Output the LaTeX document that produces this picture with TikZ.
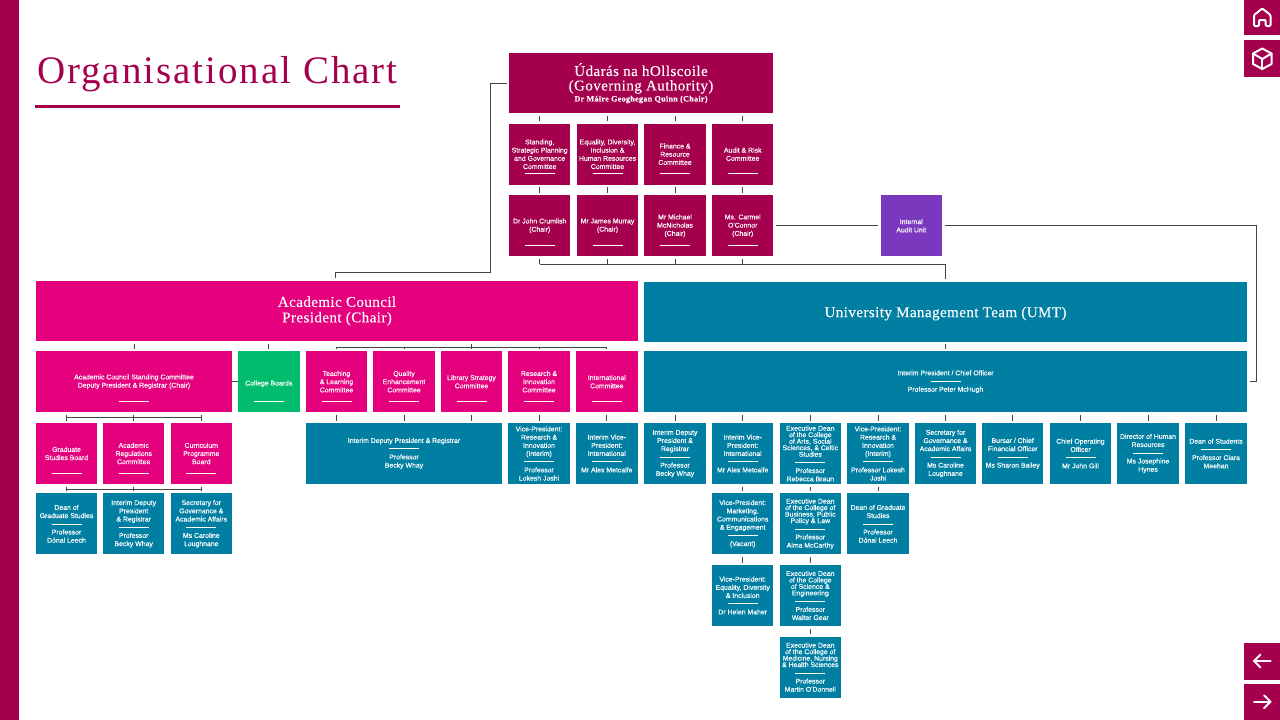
\documentclass[tikz,border=0pt]{standalone}
\usepackage{fontspec}
\setmainfont{Liberation Sans}
\newfontfamily\boxfont[FakeBold=0.15]{Liberation Sans}
\newfontfamily\headfont[LetterSpace=3, FakeBold=0.1]{Liberation Serif}
\newfontfamily\titlefont[LetterSpace=5]{Liberation Serif}
\usetikzlibrary{calc}
\definecolor{uniMaroon}{RGB}{165,0,78}
\definecolor{uniPink}{RGB}{229,0,125}
\definecolor{uniTeal}{RGB}{0,127,163}
\definecolor{uniGreen}{RGB}{0,188,108}
\definecolor{uniPurple}{RGB}{122,56,190}
\definecolor{linkGrey}{RGB}{68,68,68}
\newcommand{\sep}{\rule[2pt]{30pt}{0.7pt}}
\tikzset{
	orgbox/.style={minimum width=61.5pt, minimum height=61pt, inner sep=0pt, outer sep=2.5pt, text=white, align=center, font=\boxfont\fontsize{6.9}{8.2}\selectfont, execute at begin node={\rule{0pt}{7pt}}},
	ruled/.style={execute at begin node={\rule{0pt}{9pt}}, path picture={\draw[white, line width=0.7pt] ([xshift=-15pt, yshift=11pt]path picture bounding box.south) -- ++(30pt,0);}},
	govbox/.style={orgbox, ruled, fill=uniMaroon},
	acbox/.style={orgbox, ruled, fill=uniPink},
	umtbox/.style={orgbox, fill=uniTeal},
	headbox/.style={orgbox, font=\headfont\fontsize{15}{15.5}\selectfont, execute at begin node={\rule{0pt}{14.5pt}}},
	link/.style={draw=linkGrey, line width=1pt},
	joined/.style={shorten <=-2.5pt, shorten >=-2.5pt},
	icon/.style={white, line width=2pt, line join=round, line cap=round}
}
\begin{document}
\begin{tikzpicture}[x=1pt, y=-1pt]
	\fill[white] (0,0) rectangle (1280,720);
	\fill[uniMaroon] (0,0) rectangle (19,720);
	\node[anchor=west, inner sep=0pt, text=uniMaroon, font=\titlefont\fontsize{39}{40}\selectfont] (title) at (37,74.5) {Organisational Chart};
	\draw[uniMaroon, line width=2.6pt] (35,106.7) -- (400,106.7);

	% governing authority
	\node[headbox, fill=uniMaroon, minimum width=263.7pt, minimum height=60.3pt, font=\headfont\fontsize{15}{14.5}\selectfont, execute at begin node={\rule{0pt}{17.5pt}}] (gover) at (641,83.2) {Údarás na hOllscoile\\(Governing Authority)\\[-3.5pt]{\fontsize{8.2}{9}\selectfont\bfseries Dr Máire Geoghegan Quinn (Chair)}};
	\node[govbox] (stand) at (539.7,154.2) {Standing,\\Strategic Planning\\and Governance\\Committee};
	\node[govbox] (equal) at (607.5,154.2) {Equality, Diversity,\\Inclusion \&\\Human Resources\\Committee};
	\node[govbox] (finan) at (675,154.2) {Finance \&\\Resource\\Committee};
	\node[govbox] (audit) at (742.7,154.2) {Audit \& Risk\\Committee};
	\node[govbox] (crum) at (539.7,225.8) {Dr John Crumlish\\(Chair)};
	\node[govbox] (murr) at (607.5,225.8) {Mr James Murray\\(Chair)};
	\node[govbox] (mcni) at (675,225.8) {Mr Michael\\McNicholas\\(Chair)};
	\node[govbox] (ocon) at (742.7,225.8) {Ms. Carmel\\O'Connor\\(Chair)};
	\node[orgbox, fill=uniPurple] (iau) at (911.3,225.8) {Internal\\Audit Unit};

	% academic council
	\node[headbox, fill=uniPink, minimum width=602pt, minimum height=60.6pt, execute at begin node={\rule{0pt}{20pt}}] (coun) at (337,311) {Academic Council\\President (Chair)};
	\node[acbox, minimum width=196pt] (acsc) at (134,381.7) {Academic Council Standing Committee\\Deputy President \& Registrar (Chair)};
	\node[orgbox, ruled, fill=uniGreen] (boards) at (268.8,381.7) {College Boards};
	\node[acbox] (teach) at (336.5,381.7) {Teaching\\\& Learning\\Committee};
	\node[acbox] (qual) at (404,381.7) {Quality\\Enhancement\\Committee};
	\node[acbox] (libr) at (471.5,381.7) {Library Strategy\\Committee};
	\node[acbox] (rein) at (539,381.7) {Research \&\\Innovation\\Committee};
	\node[acbox] (intl) at (606.8,381.7) {International\\Committee};
	\node[acbox] (gsb) at (66.5,453.5) {Graduate\\Studies Board};
	\node[acbox] (arc) at (133.7,453.5) {Academic\\Regulations\\Committee};
	\node[acbox] (cpb) at (201.3,453.5) {Curriculum\\Programme\\Board};
	\node[umtbox] (dgs) at (66.5,523.8) {Dean of\\Graduate Studies\\\sep\\Professor\\Dónal Leech};
	\node[umtbox] (idp) at (133.7,523.8) {Interim Deputy\\President\\\& Registrar\\\sep\\Professor\\Becky Whay};
	\node[umtbox] (sga) at (201.3,523.8) {Secretary for\\Governance \&\\Academic Affairs\\\sep\\Ms Caroline\\Loughnane};
	\node[umtbox, minimum width=196pt] (dpr) at (404,453.5) {Interim Deputy President \& Registrar\\\sep\\Professor\\Becky Whay};
	\node[umtbox] (vpri) at (539,453.5) {Vice-President:\\Research \&\\Innovation\\(Interim)\\\sep\\Professor\\Lokesh Joshi};
	\node[umtbox] (ivpi) at (606.8,453.5) {Interim Vice-\\President:\\International\\\sep\\Mr Alex Metcalfe};

	% university management team
	\node[headbox, fill=uniTeal, minimum width=603pt, minimum height=60pt] (umt) at (945.5,311.5) {University Management Team (UMT)};
	\node[umtbox, minimum width=603pt] (pres) at (945.5,381.7) {Interim President / Chief Officer\\\sep\\Professor Peter McHugh};
	\node[umtbox] (mdp) at (675,453.5) {Interim Deputy\\President \&\\Registrar\\\sep\\Professor\\Becky Whay};
	\node[umtbox] (mvi) at (742.7,453.5) {Interim Vice-\\President:\\International\\\sep\\Mr Alex Metcalfe};
	\node[umtbox] (arts) at (810.3,453.5) {Executive Dean\\[-1.7pt]of the College\\[-1.7pt]of Arts, Social\\[-1.7pt]Sciences, \& Celtic\\[-1.7pt]Studies\\\sep\\Professor\\Rebecca Braun};
	\node[umtbox] (mvr) at (878,453.5) {Vice-President:\\Research \&\\Innovation\\(Interim)\\\sep\\Professor Lokesh\\Joshi};
	\node[umtbox] (msg) at (945.5,453.5) {Secretary for\\Governance \&\\Academic Affairs\\\sep\\Ms Caroline\\Loughnane};
	\node[umtbox] (burs) at (1012.7,453.5) {Bursar / Chief\\Financial Officer\\\sep\\Ms Sharon Bailey};
	\node[umtbox] (coo) at (1080.5,453.5) {Chief Operating\\Officer\\\sep\\Mr John Gill};
	\node[umtbox] (hr) at (1148,453.5) {Director of Human\\Resources\\\sep\\Ms Josephine\\Hynes};
	\node[umtbox] (stud) at (1216,453.5) {Dean of Students\\\sep\\Professor Ciara\\Meehan};
	\node[umtbox] (mce) at (742.7,523.8) {Vice-President:\\Marketing,\\Communications\\\& Engagement\\\sep\\(Vacant)};
	\node[umtbox] (bus) at (810.3,523.8) {Executive Dean\\[-1.7pt]of the College of\\[-1.7pt]Business, Public\\[-1.7pt]Policy \& Law\\\sep\\Professor\\Alma McCarthy};
	\node[umtbox] (mgs) at (878,523.8) {Dean of Graduate\\Studies\\\sep\\Professor\\Dónal Leech};
	\node[umtbox] (edi) at (742.7,595.5) {Vice-President:\\Equality, Diversity\\\& Inclusion\\\sep\\Dr Helen Maher};
	\node[umtbox] (sci) at (810.3,595.5) {Executive Dean\\[-1.7pt]of the College\\[-1.7pt]of Science \&\\[-1.7pt]Engineering\\\sep\\Professor\\Walter Gear};
	\node[umtbox] (med) at (810.3,667.2) {Executive Dean\\[-1.7pt]of the College of\\[-1.7pt]Medicine, Nursing\\[-1.7pt]\& Health Sciences\\\sep\\Professor\\Martin O'Donnell};

	% connectors
	\coordinate (turnA) at (490,272);
	\coordinate (turnB) at (1256,300);
	\coordinate (busG) at (0,264);
	\coordinate (busT) at (0,347);
	\coordinate (busR) at (0,417);
	\coordinate (busD) at (0,489);
	\draw[link] (gover.west) -| (turnA) -| ([xshift=-2pt]coun.north);
	\foreach \a/\b in {stand/gover, equal/gover, finan/gover, audit/gover, crum/stand, murr/equal, mcni/finan, ocon/audit}
	\draw[link] (\a.north) -- (\a.north |- \b.south);
	\foreach \a in {crum, murr, mcni, ocon}
	\draw[link] (\a.south) -- (\a.south |- busG);
	\draw[link] (crum.south |- busG) -- (umt.north |- busG) -- (umt.north);
	\draw[link] (ocon.east) -- (iau.west);
	\draw[link] (iau.east) -| (turnB) |- (pres.east);
	\draw[link] (acsc.north) -- (acsc.north |- coun.south);
	\draw[link] (boards.north) -- (boards.north |- coun.south);
	\draw[link, joined] (acsc.east) -- (boards.west);
	\draw[link] (libr.north) -- (libr.north |- coun.south);
	\foreach \a in {teach, qual, rein, intl}
	\draw[link] (\a.north) -- (\a.north |- busT);
	\draw[link] (teach.north |- busT) -- (intl.north |- busT);
	\foreach \a/\b in {teach/dpr, qual/dpr, libr/dpr, rein/vpri, intl/ivpi}
	\draw[link] (\a.south) -- (\a.south |- \b.north);
	\foreach \a in {gsb, arc, cpb}
	\draw[link] (\a.north) -- (\a.north |- acsc.south);
	\draw[link] (gsb.north |- busR) -- (cpb.north |- busR);
	\foreach \a/\b in {gsb/dgs, arc/idp, cpb/sga}
	\draw[link] (\a.south) -- (\b.north);
	\draw[link] (gsb.south |- busD) -- (cpb.south |- busD);
	\draw[link] (umt.south) -- (pres.north);
	\foreach \a in {mdp, mvi, arts, mvr, msg, burs, coo, hr, stud}
	\draw[link] (\a.north) -- (\a.north |- pres.south);
	\foreach \a/\b in {mvi/mce, arts/bus, mvr/mgs, mce/edi, bus/sci, sci/med}
	\draw[link] (\a.south) -- (\b.north);

	% side buttons
	\fill[uniMaroon] (1243.5,0) rectangle (1280,35);
	\fill[uniMaroon] (1243.5,40) rectangle (1280,77);
	\fill[uniMaroon] (1243.5,642.5) rectangle (1280,679.5);
	\fill[uniMaroon] (1243.5,684) rectangle (1280,720);
	\draw[icon, rounded corners=1pt] (1254,26) -- (1254,15) -- (1262.3,8.5) -- (1270.5,15) -- (1270.5,26) -- (1265.7,26) -- (1265.7,20) -- (1259,20) -- (1259,26) -- cycle;
	\draw[icon] (1262.3,48.5) -- (1271.5,53.5) -- (1271.5,64) -- (1262.3,69) -- (1253,64) -- (1253,53.5) -- cycle;
	\draw[icon] (1253,53.5) -- (1262.3,59) -- (1271.5,53.5);
	\draw[icon] (1262.3,59) -- (1262.3,69);
	\draw[icon] (1270.5,661) -- (1254,661);
	\draw[icon] (1260.5,654.5) -- (1254,661) -- (1260.5,667.5);
	\draw[icon] (1254,701.7) -- (1270.5,701.7);
	\draw[icon] (1264,695.2) -- (1270.5,701.7) -- (1264,708.2);
\end{tikzpicture}
\end{document}
